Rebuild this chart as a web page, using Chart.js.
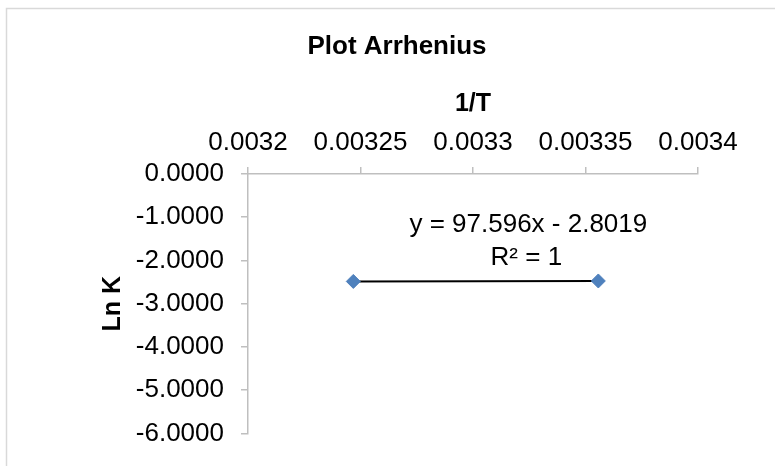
<!DOCTYPE html>
<html>
<head>
<meta charset="utf-8">
<script src="https://cdn.jsdelivr.net/npm/chart.js@4/dist/chart.umd.min.js"></script>
<style>
  html, body { margin: 0; padding: 0; background: #ffffff; }
  #wrap { width: 775px; height: 466px; }
</style>
</head>
<body>
<div id="wrap"><canvas id="c" width="775" height="466"></canvas></div>
<script>
// ---- data ----
const chartTitle = 'Plot Arrhenius';
const xAxisTitle = '1/T';
const yAxisTitle = 'Ln K';
const invT = [0.0032468, 0.0033557];
const lnK = [-2.4850, -2.4744];
const trendX = [0.0032468, 0.0033557];
const trendY = [-2.4850, -2.4744];
const trendLabel = ['y = 97.596x - 2.8019', 'R\u00B2 = 1'];
const xTickValues = [0.0032, 0.00325, 0.0033, 0.00335, 0.0034];
const xTickLabels = ['0.0032', '0.00325', '0.0033', '0.00335', '0.0034'];
const yTickValues = [0, -1, -2, -3, -4, -5, -6];
const yTickLabels = ['0.0000', '-1.0000', '-2.0000', '-3.0000', '-4.0000', '-5.0000', '-6.0000'];

const FONT = "'Liberation Sans', Arial, sans-serif";
const AXIS_COLOR = '#bfbfbf';

const decor = {
  id: 'decor',
  beforeDraw(chart) {
    const ctx = chart.ctx;
    ctx.save();
    ctx.fillStyle = '#ffffff';
    ctx.fillRect(0, 0, chart.width, chart.height);
    ctx.strokeStyle = '#d9d9d9';
    ctx.lineWidth = 1.5;
    ctx.strokeRect(6.5, 8.5, 1000, 1000);
    ctx.restore();
  },
  afterDraw(chart) {
    const ctx = chart.ctx;
    const a = chart.chartArea;
    ctx.save();
    ctx.fillStyle = '#000000';
    ctx.textAlign = 'center';
    ctx.textBaseline = 'alphabetic';
    ctx.font = 'bold 26px ' + FONT;
    ctx.fillText(chartTitle, 397, 54);
    ctx.font = '26px ' + FONT;
    const cx = a.left + 0.623 * (a.right - a.left);
    ctx.fillText(trendLabel[0], cx, 232);
    ctx.fillText(trendLabel[1], cx - 2, 265);
    ctx.restore();
  }
};

new Chart(document.getElementById('c'), {
  type: 'scatter',
  data: {
    datasets: [
      {
        label: 'Ln K',
        data: invT.map((x, i) => ({ x: x, y: lnK[i] })),
        pointStyle: 'rectRot',
        pointRadius: 7,
        pointBorderWidth: 1,
        backgroundColor: '#4f81bd',
        borderColor: '#4f81bd',
        showLine: false,
        order: 0
      },
      {
        label: 'Trend',
        data: trendX.map((x, i) => ({ x: x, y: trendY[i] })),
        showLine: true,
        pointRadius: 0,
        borderColor: '#000000',
        borderWidth: 2,
        order: 1
      }
    ]
  },
  options: {
    responsive: false,
    animation: false,
    devicePixelRatio: 1,
    layout: { padding: { top: 60, left: 0, right: 77, bottom: 30 } },
    plugins: {
      legend: { display: false },
      tooltip: { enabled: false },
      title: { display: false }
    },
    scales: {
      x: {
        type: 'linear',
        position: 'top',
        min: 0.0032,
        max: 0.0034,
        afterBuildTicks(scale) { scale.ticks = xTickValues.map(v => ({ value: v })); },
        afterFit(scale) { scale.height = 114; },
        ticks: {
          autoSkip: false,
          maxRotation: 0,
          padding: 9,
          color: '#000000',
          font: { family: FONT, size: 26 },
          callback: (v, i) => xTickLabels[i]
        },
        grid: {
          drawOnChartArea: false,
          drawTicks: true,
          tickLength: 7,
          color: AXIS_COLOR,
          lineWidth: 1.5
        },
        border: { display: true, color: AXIS_COLOR, width: 1.5 },
        title: {
          display: true,
          text: xAxisTitle,
          color: '#000000',
          font: { family: FONT, size: 25, weight: 'bold' },
          padding: { top: 29, bottom: 0 }
        }
      },
      y: {
        type: 'linear',
        position: 'left',
        min: -6,
        max: 0,
        afterBuildTicks(scale) { scale.ticks = yTickValues.map(v => ({ value: v })); },
        afterFit(scale) { scale.width = 248; },
        ticks: {
          autoSkip: false,
          padding: 17,
          color: '#000000',
          font: { family: FONT, size: 26 },
          callback: (v) => yTickLabels[yTickValues.indexOf(v)]
        },
        grid: {
          drawOnChartArea: false,
          drawTicks: true,
          tickLength: 7,
          color: AXIS_COLOR,
          lineWidth: 1.5
        },
        border: { display: true, color: AXIS_COLOR, width: 1.5 },
        title: {
          display: true,
          text: yAxisTitle,
          color: '#000000',
          font: { family: FONT, size: 25, weight: 'bold' },
          padding: { top: 98, bottom: 0 }
        }
      }
    }
  },
  plugins: [decor]
});
</script>
</body>
</html>
